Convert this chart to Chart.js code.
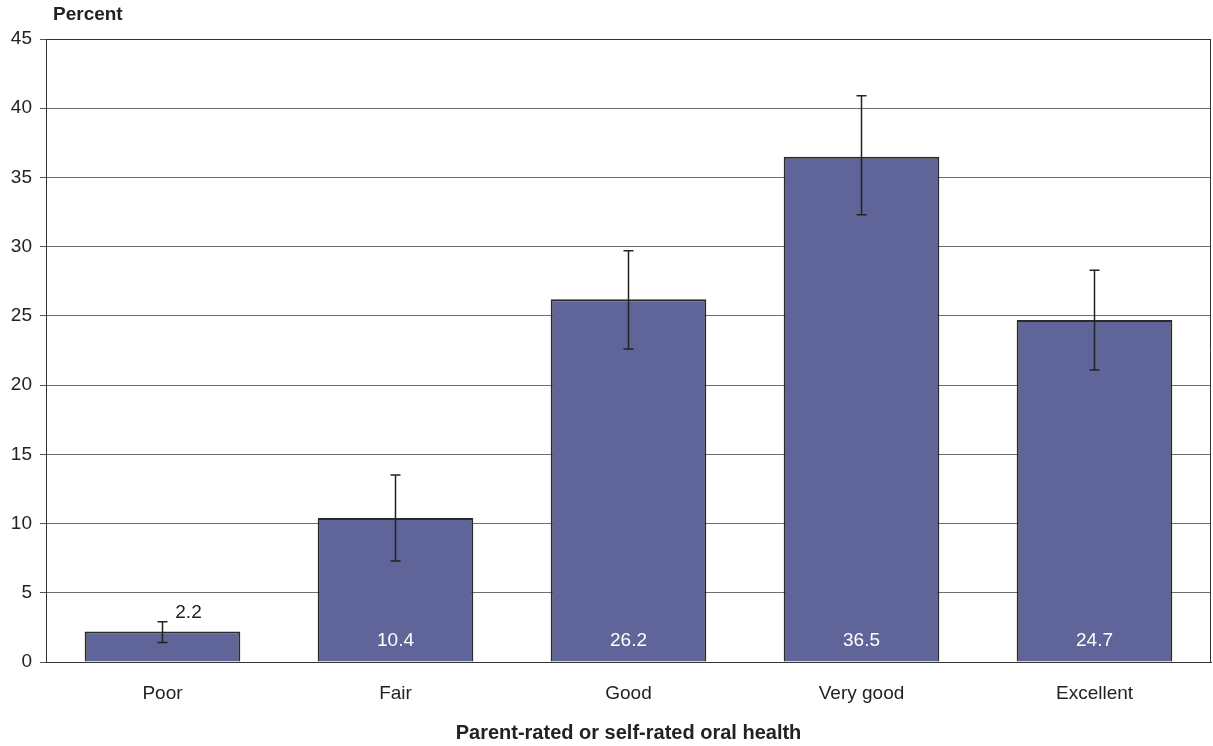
<!DOCTYPE html>
<html>
<head>
<meta charset="utf-8">
<script src="https://cdn.jsdelivr.net/npm/chart.js@4.4.1/dist/chart.umd.min.js"></script>
<style>
  html, body { margin: 0; padding: 0; background: #fff; }
  #wrap { width: 1213px; height: 746px; }
</style>
</head>
<body>
<div id="wrap"><canvas id="oralChart" width="1213" height="746"></canvas></div>
<script>
const categories = ['Poor', 'Fair', 'Good', 'Very good', 'Excellent'];
const percents = [2.2, 10.4, 26.2, 36.5, 24.7];
const ciLow = [1.4, 7.3, 22.6, 32.3, 21.1];
const ciHigh = [2.9, 13.5, 29.7, 40.9, 28.3];
const yTicks = [0, 5, 10, 15, 20, 25, 30, 35, 40, 45];

const FONT = 'Liberation Sans, Arial, sans-serif';
const INK = '#222222';

// error bars, value labels, y-axis caption and right frame line
const extras = {
    id: 'extras',
    afterDatasetsDraw(chart) {
        const ctx = chart.ctx;
        const y = chart.scales.y;
        const area = chart.chartArea;
        const meta = chart.getDatasetMeta(0);

        ctx.save();
        ctx.strokeStyle = INK;
        ctx.lineWidth = 1.5;
        meta.data.forEach((bar, i) => {
            const top = y.getPixelForValue(ciHigh[i]);
            const bot = y.getPixelForValue(ciLow[i]);
            ctx.beginPath();
            ctx.moveTo(bar.x, top);
            ctx.lineTo(bar.x, bot);
            ctx.moveTo(bar.x - 5, top);
            ctx.lineTo(bar.x + 5, top);
            ctx.moveTo(bar.x - 5, bot);
            ctx.lineTo(bar.x + 5, bot);
            ctx.stroke();
        });

        ctx.font = '19px ' + FONT;
        ctx.textAlign = 'center';
        ctx.textBaseline = 'middle';
        meta.data.forEach((bar, i) => {
            const h = y.getPixelForValue(0) - y.getPixelForValue(percents[i]);
            if (h > 60) {
                ctx.fillStyle = '#ffffff';
                ctx.fillText(percents[i].toFixed(1), bar.x, area.bottom - 21);
            } else {
                ctx.fillStyle = INK;
                ctx.fillText(percents[i].toFixed(1), bar.x + 26, y.getPixelForValue(ciHigh[i]) - 9);
            }
        });

        ctx.strokeStyle = '#333333';
        ctx.lineWidth = 1;
        ctx.beginPath();
        ctx.moveTo(area.right - 0.5, area.top);
        ctx.lineTo(area.right - 0.5, area.bottom);
        ctx.stroke();

        ctx.fillStyle = INK;
        ctx.font = 'bold 19px ' + FONT;
        ctx.textAlign = 'left';
        ctx.textBaseline = 'middle';
        ctx.fillText('Percent', 53, 15);
        ctx.restore();
    }
};

new Chart(document.getElementById('oralChart'), {
    type: 'bar',
    data: {
        labels: categories,
        datasets: [{
            data: percents,
            backgroundColor: '#5f6598',
            borderColor: '#2a2a2a',
            borderWidth: 2,
            categoryPercentage: 1,
            barPercentage: 0.668,
        }],
    },
    options: {
        responsive: false,
        animation: false,
        layout: { padding: { top: 39, right: 2, bottom: 1, left: 0 } },
        plugins: {
            legend: { display: false },
            tooltip: { enabled: false },
        },
        scales: {
            x: {
                afterFit(scale) { scale.height = 83; },
                grid: { display: false, drawTicks: false },
                border: { display: true, color: '#333333', width: 1 },
                ticks: { color: INK, font: { family: FONT, size: 19 }, padding: 20 },
                title: {
                    display: true,
                    text: 'Parent-rated or self-rated oral health',
                    color: INK,
                    font: { family: FONT, size: 20, weight: 'bold' },
                    padding: { top: 0, bottom: 0 },
                },
            },
            y: {
                min: 0,
                max: 45,
                afterFit(scale) { scale.width = 46; },
                afterBuildTicks(scale) { scale.ticks = yTicks.map(v => ({ value: v })); },
                grid: {
                    color: ctx => (ctx.tick && ctx.tick.value === 45 ? '#333333' : '#6e6e6e'),
                    tickColor: '#555555',
                    tickLength: 6,
                    lineWidth: 1,
                },
                border: { display: true, color: '#333333', width: 1 },
                ticks: { color: INK, font: { family: FONT, size: 19 }, padding: 8 },
            },
        },
    },
    plugins: [extras],
});
</script>
</body>
</html>
